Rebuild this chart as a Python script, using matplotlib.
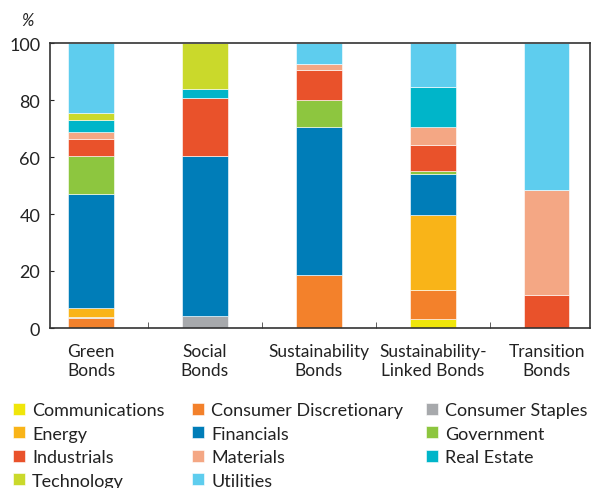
import matplotlib
matplotlib.use("Agg")
import matplotlib.pyplot as plt
import numpy as np

plt.rcParams['font.family'] = ['Lato', 'DejaVu Sans']

bond_types = ["Green\nBonds", "Social\nBonds", "Sustainability\nBonds",
              "Sustainability-\nLinked Bonds", "Transition\nBonds"]

sectors = ["Communications", "Consumer Discretionary", "Consumer Staples",
           "Energy", "Financials", "Government", "Industrials",
           "Materials", "Real Estate", "Technology", "Utilities"]

# Sector shares (%) per bond type, in the order of bond_types
communications = [0.0, 0.0, 0.0, 3.0, 0.0]
consumer_discretionary = [3.5, 0.0, 18.5, 10.2, 0.0]
consumer_staples = [0.4, 4.2, 0.0, 0.0, 0.0]
energy = [3.2, 0.0, 0.0, 26.4, 0.0]
financials = [39.8, 56.0, 52.0, 14.5, 0.0]
government = [13.6, 0.0, 9.6, 1.1, 0.0]
industrials = [5.9, 20.4, 10.5, 8.9, 11.6]
materials = [2.4, 0.0, 1.9, 6.5, 36.7]
real_estate = [4.1, 3.1, 0.0, 13.8, 0.0]
technology = [2.7, 16.3, 0.0, 0.0, 0.0]
utilities = [24.4, 0.0, 7.5, 15.6, 51.7]

series = [communications, consumer_discretionary, consumer_staples, energy,
          financials, government, industrials, materials, real_estate,
          technology, utilities]

colors = ["#f0e60a", "#f3812b", "#a7a9ac", "#f9b418", "#007db8", "#8dc63f",
          "#e9522b", "#f4a784", "#00b5c9", "#cad92b", "#5ecdee"]

W, H = 597, 489
fig = plt.figure(figsize=(W / 100, H / 100), dpi=100)
ax = fig.add_axes([50 / W, 1 - 329 / H, 540 / W, 285 / H])

x = np.arange(len(bond_types))
bottom = np.zeros(len(bond_types))
handles = []
for name, vals, col in zip(sectors, series, colors):
    vals = np.array(vals, dtype=float)
    b = ax.bar(x, vals, width=0.4, bottom=bottom, color=col,
               edgecolor="white", linewidth=0.4, label=name)
    handles.append(b)
    bottom += vals

ax.set_xlim(-0.36, 4.38)
ax.set_ylim(0, 100)
ax.set_yticks(np.arange(0, 101, 20))
ax.tick_params(axis="y", direction="in", length=3, labelsize=13,
               colors="#222222", pad=7)
ax.set_xticks(x)
ax.set_xticklabels(bond_types, fontsize=12.5, color="#222222")
ax.tick_params(axis="x", length=0, pad=11)
ax.set_xticks(x[:-1] + 0.5, minor=True)
ax.tick_params(axis="x", which="minor", direction="in", length=4,
               color="#444444")
for s in ax.spines.values():
    s.set_color("#333333")
    s.set_linewidth(1.2)

fig.text(27 / W, 1 - 21 / H, "%", fontsize=12, style="italic",
         ha="center", va="center", color="#222222")

# legend laid out row by row in three fixed columns
columns = [[0, 3, 6, 9], [1, 4, 7, 10], [2, 5, 8]]
col_x = [13, 192, 426]
for cols, cx in zip(columns, col_x):
    leg = fig.legend([handles[i] for i in cols], [sectors[i] for i in cols],
                     ncol=1, loc="upper left",
                     bbox_to_anchor=(cx / W, 1 - 403 / H),
                     frameon=False, fontsize=13, handlelength=0.66,
                     handleheight=0.66, handletextpad=0.4,
                     labelspacing=0.42, borderaxespad=0, borderpad=0)
    for t in leg.get_texts():
        t.set_color("#222222")

fig.savefig("out.png", dpi=100)
